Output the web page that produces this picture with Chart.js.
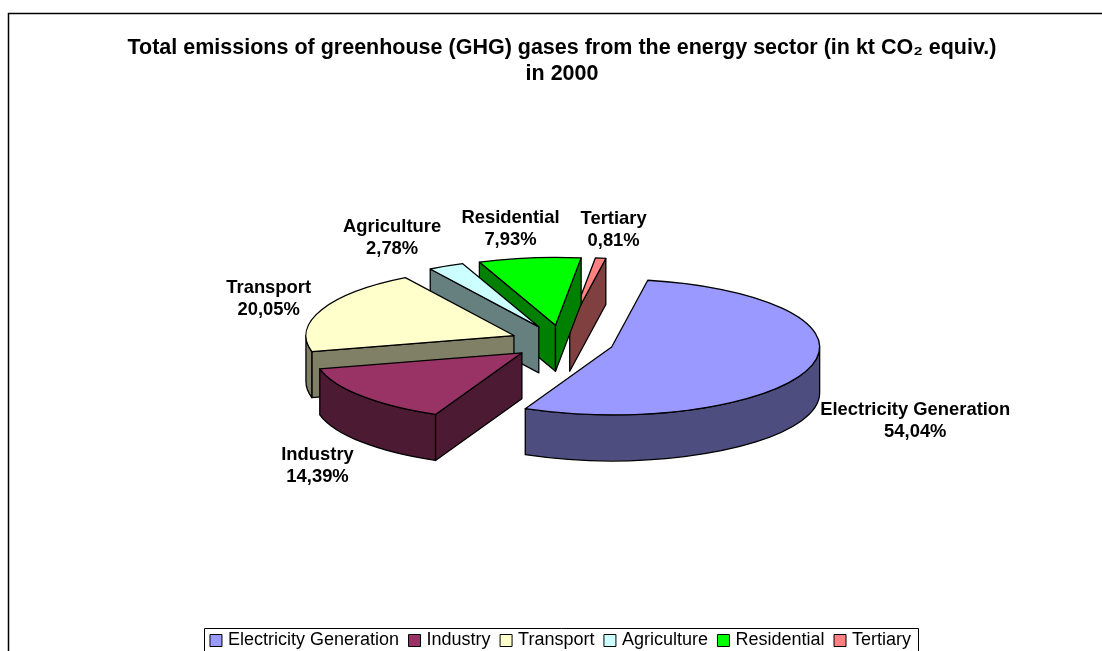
<!DOCTYPE html>
<html>
<head>
<meta charset="utf-8">
<script src="https://cdn.jsdelivr.net/npm/chart.js@4"></script>
<style>html,body{margin:0;padding:0;background:#fff;overflow:hidden}canvas{display:block}</style>
</head>
<body>
<canvas id="c" width="1102" height="651"></canvas>
<script>
const categories = ['Electricity Generation', 'Industry', 'Transport', 'Agriculture', 'Residential', 'Tertiary'];
const shares = [54.04, 14.39, 20.05, 2.78, 7.93, 0.81];
const topColors = ['#9999FF', '#993366', '#FFFFCC', '#CCFFFF', '#00FF00', '#FF8080'];
const sideColors = ['#4D4D80', '#4D1A33', '#808066', '#668080', '#008000', '#804040'];
const titleLines = ['Total emissions of greenhouse (GHG) gases from the energy sector (in kt CO\u2082 equiv.)', 'in 2000'];
const paintOrder = [5, 4, 3, 2, 0, 1];
const labelOffsets = [[105, 54], [-44, 70], [-53, -11], [-54, -28], [-19, -29], [13, -28]];

const FONT = '"Liberation Sans", Arial, sans-serif';
const RADIUS = 208, EXPLODE = 52, SQUASH = 0.326, DEPTH = 46, CENTER_Y = 342;

function geom(el) {
  const mid = (el.startAngle + el.endAngle) / 2;
  return {
    x: el.x + Math.cos(mid) * EXPLODE,
    y: CENTER_Y + Math.sin(mid) * EXPLODE * SQUASH,
    r: el.outerRadius, s: el.startAngle, e: el.endAngle, mid
  };
}
function wallRadial(ctx, g, a, fill) {
  const px = g.x + g.r * Math.cos(a), py = g.y + g.r * SQUASH * Math.sin(a);
  ctx.beginPath();
  ctx.moveTo(g.x, g.y); ctx.lineTo(px, py); ctx.lineTo(px, py + DEPTH); ctx.lineTo(g.x, g.y + DEPTH); ctx.closePath();
  ctx.fillStyle = fill; ctx.fill(); ctx.stroke();
}
function wallOuter(ctx, g, fill) {
  // visible part of the rim is where sin(angle) > 0
  const turns = [0, 2 * Math.PI];
  for (const t of turns) {
    const a = Math.max(g.s, t), b = Math.min(g.e, t + Math.PI);
    if (b <= a) continue;
    ctx.beginPath();
    ctx.ellipse(g.x, g.y, g.r, g.r * SQUASH, 0, a, b);
    ctx.ellipse(g.x, g.y + DEPTH, g.r, g.r * SQUASH, 0, b, a, true);
    ctx.closePath();
    ctx.fillStyle = fill; ctx.fill(); ctx.stroke();
  }
}
const pie3d = {
  id: 'pie3d',
  afterLayout(chart) {
    chart.legend.top = 619;
  },
  beforeDraw(chart) {
    const ctx = chart.ctx;
    ctx.save();
    ctx.fillStyle = '#fff'; ctx.fillRect(0, 0, chart.width, chart.height);
    ctx.strokeStyle = '#000'; ctx.lineWidth = 1.5;
    ctx.beginPath(); ctx.moveTo(8.5, chart.height); ctx.lineTo(8.5, 13.5); ctx.lineTo(chart.width, 13.5); ctx.stroke();
    ctx.restore();
  },
  beforeDatasetDraw() { return false; },
  afterDatasetsDraw(chart) {
    const ctx = chart.ctx, arcs = chart.getDatasetMeta(0).data;
    for (const i of paintOrder) {
      const el = arcs[i], g = geom(el);
      ctx.save();
      ctx.strokeStyle = '#000'; ctx.lineWidth = 1.3; ctx.lineJoin = 'round';
      if (Math.cos(g.s) < 0) wallRadial(ctx, g, g.s, sideColors[i]);
      if (Math.cos(g.e) > 0) wallRadial(ctx, g, g.e, sideColors[i]);
      wallOuter(ctx, g, sideColors[i]);
      // top face: the library's own arc, moved out and flattened
      ctx.save();
      ctx.translate(g.x, g.y); ctx.scale(1, SQUASH); ctx.translate(-el.x, -el.y);
      el.draw(ctx);
      ctx.restore();
      ctx.beginPath();
      ctx.moveTo(g.x, g.y);
      ctx.ellipse(g.x, g.y, g.r, g.r * SQUASH, 0, g.s, g.e);
      ctx.closePath();
      ctx.stroke();
      ctx.restore();
    }
    ctx.save();
    ctx.fillStyle = '#000'; ctx.textAlign = 'center'; ctx.textBaseline = 'middle';
    ctx.font = 'bold 18.4px ' + FONT;
    arcs.forEach((el, i) => {
      const g = geom(el);
      const rx = g.x + g.r * Math.cos(g.mid) + labelOffsets[i][0];
      const ry = g.y + g.r * SQUASH * Math.sin(g.mid) + labelOffsets[i][1];
      ctx.fillText(categories[i], rx, ry - 11);
      ctx.fillText(shares[i].toFixed(2).replace('.', ',') + '%', rx, ry + 11);
    });
    ctx.restore();
  },
  afterDraw(chart) {
    const ctx = chart.ctx;
    ctx.save();
    ctx.strokeStyle = '#000'; ctx.lineWidth = 1;
    ctx.beginPath();
    ctx.moveTo(204.5, chart.height); ctx.lineTo(204.5, 628.5); ctx.lineTo(918.5, 628.5); ctx.lineTo(918.5, chart.height);
    ctx.stroke();
    ctx.restore();
  }
};

new Chart(document.getElementById('c'), {
  type: 'pie',
  data: {
    labels: categories,
    datasets: [{
      data: shares,
      backgroundColor: topColors,
      borderWidth: 0,
      clip: false
    }]
  },
  plugins: [pie3d],
  options: {
    responsive: false,
    animation: false,
    radius: RADIUS,
    rotation: 10,
    layout: { padding: { left: 22 } },
    plugins: {
      tooltip: { enabled: false },
      title: {
        display: true,
        text: titleLines,
        color: '#000',
        font: { family: FONT, size: 21.5, weight: 'bold', lineHeight: 1.17 },
        padding: { top: 36, bottom: 4 }
      },
      legend: {
        position: 'bottom',
        labels: {
          color: '#000',
          font: { family: FONT, size: 18 },
          usePointStyle: true,
          boxWidth: 6,
          boxHeight: 12,
          padding: 12.5,
          generateLabels(chart) {
            return Chart.overrides.doughnut.plugins.legend.labels.generateLabels(chart).map(item => {
              item.pointStyle = 'rect';
              item.lineWidth = 1;
              item.strokeStyle = '#000';
              return item;
            });
          }
        }
      }
    }
  }
});
</script>
</body>
</html>
